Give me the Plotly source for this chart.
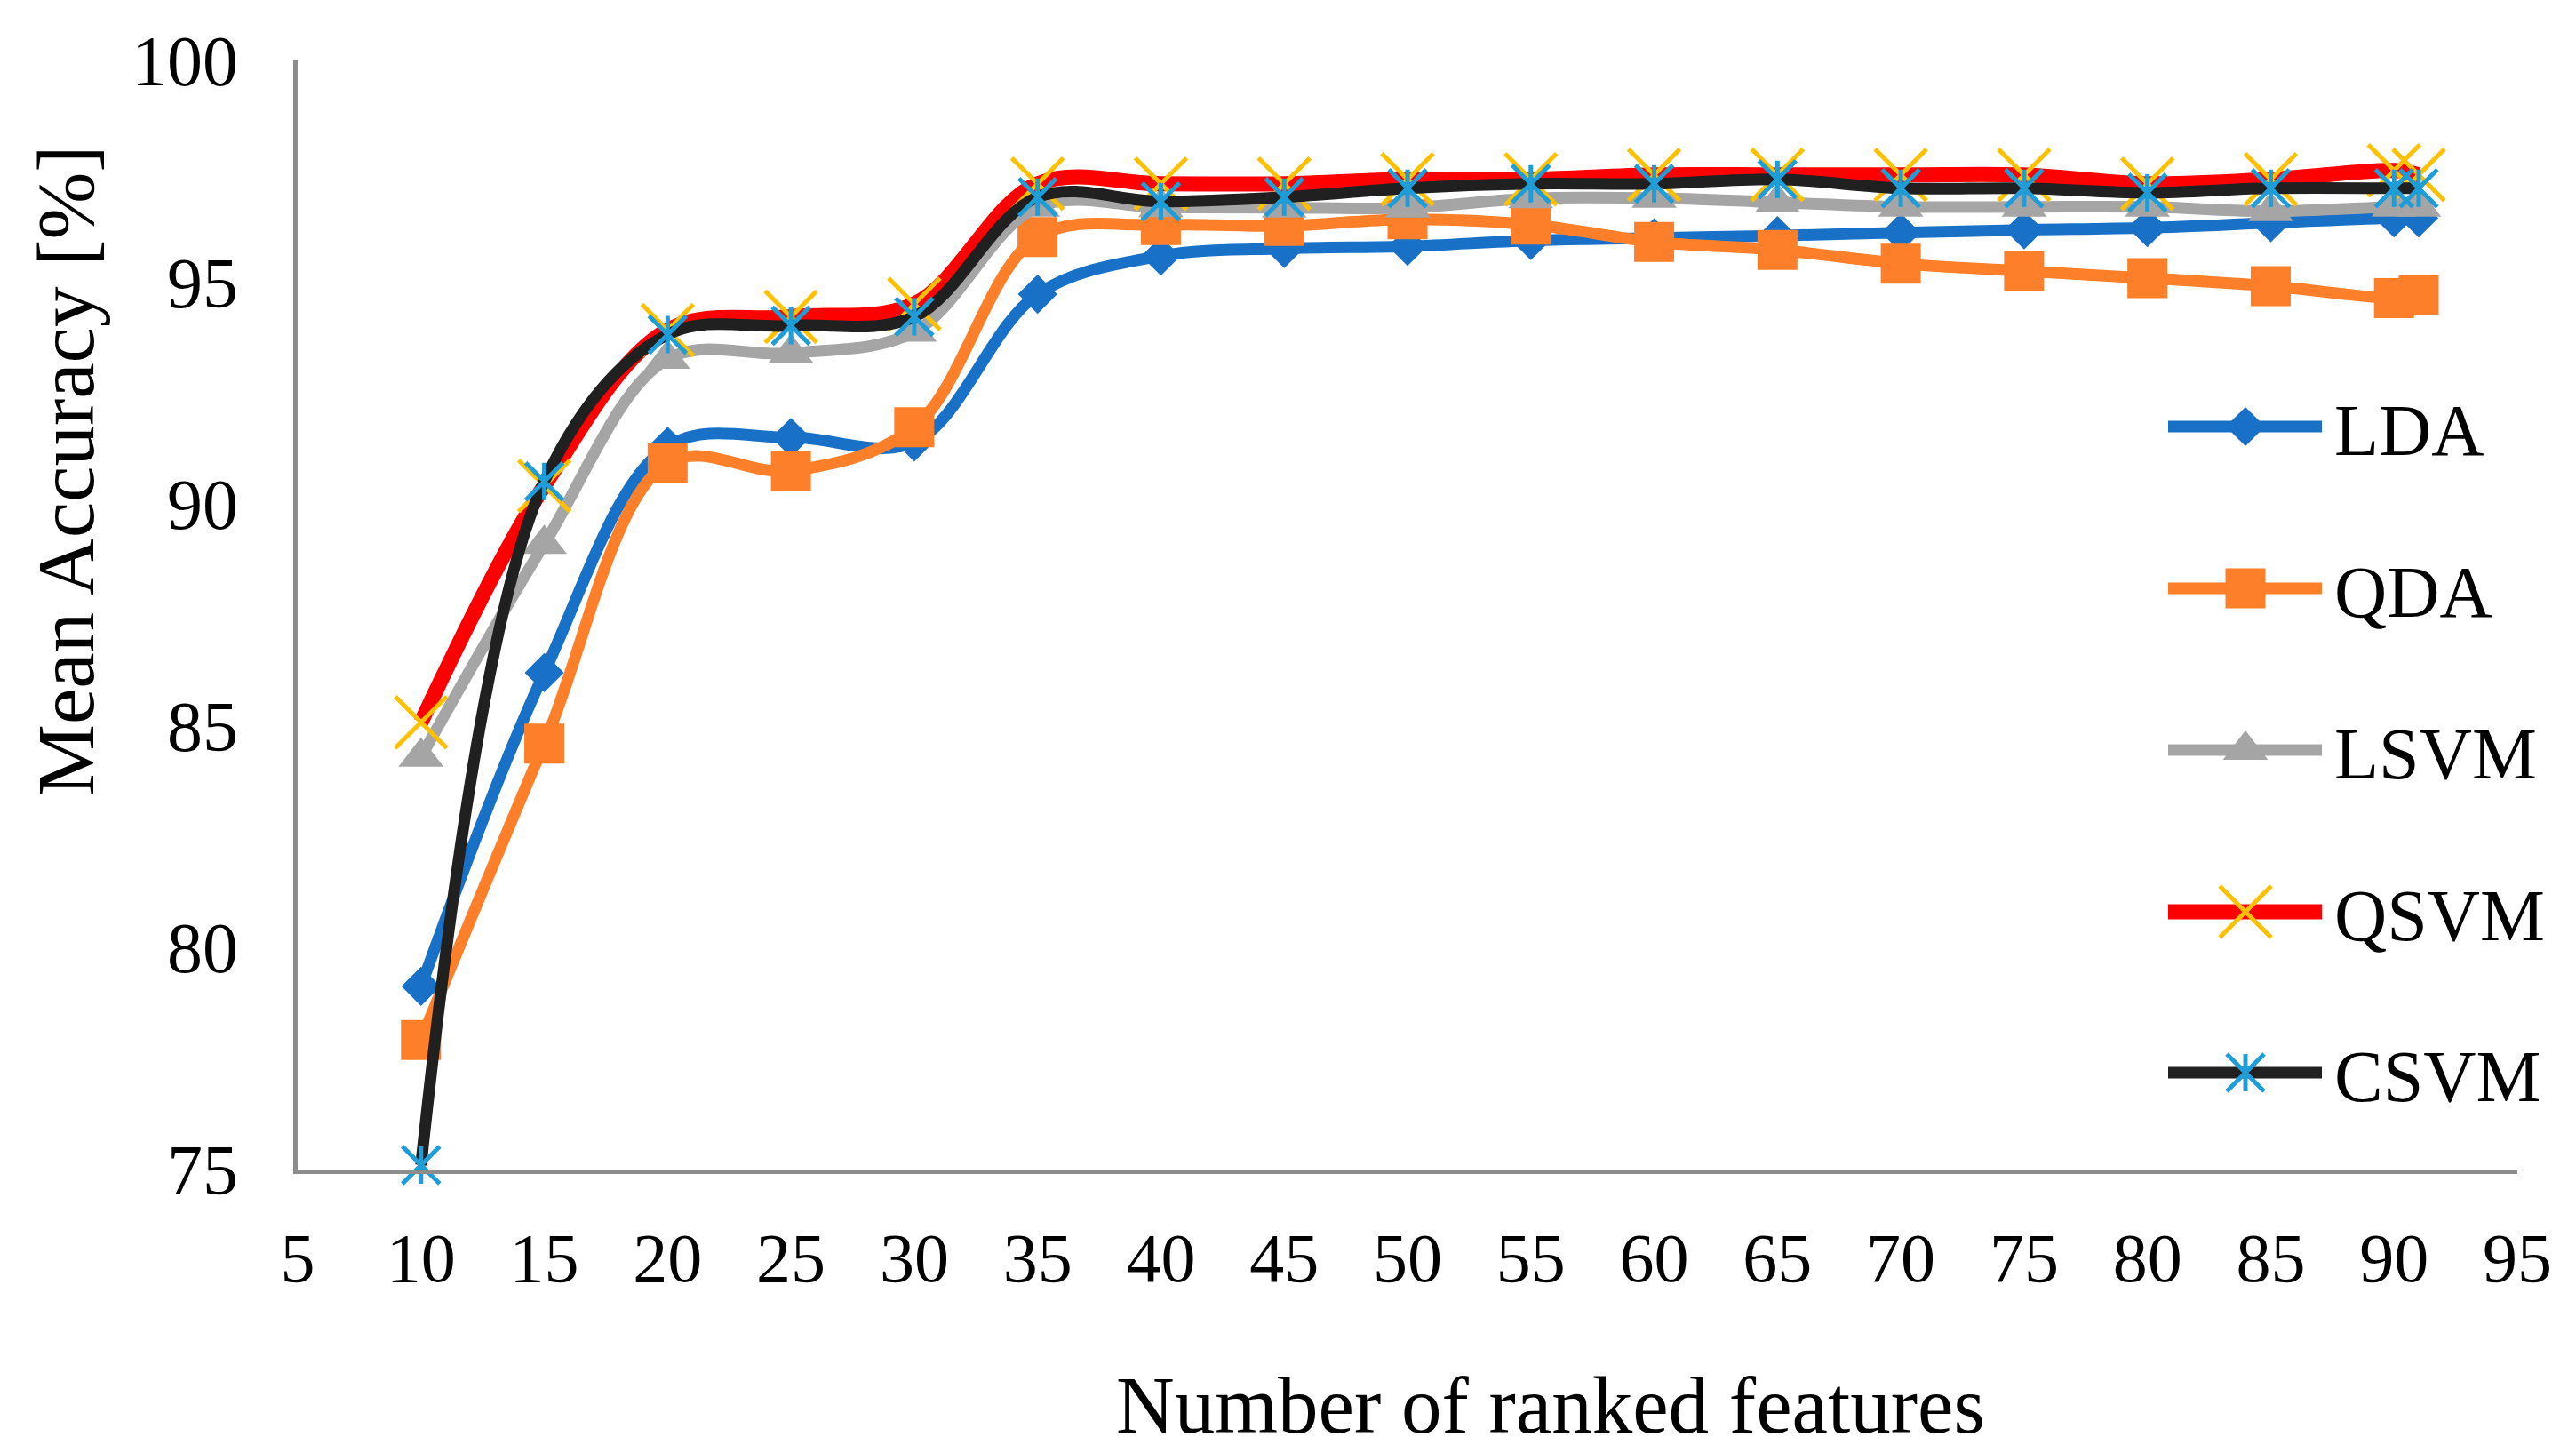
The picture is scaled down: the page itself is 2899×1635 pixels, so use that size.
import plotly.graph_objects as go

# ---------------- data ----------------
features = [10, 15, 20, 25, 30, 35, 40, 45, 50, 55, 60, 65, 70, 75, 80, 85, 90, 91]
lda = [79.13, 86.2, 91.3, 91.5, 91.4, 94.73, 95.59, 95.76, 95.81, 95.94, 96.0, 96.05, 96.12, 96.18, 96.23, 96.34, 96.45, 96.45]
qda = [77.92, 84.6, 90.93, 90.75, 91.73, 96.02, 96.29, 96.27, 96.42, 96.3, 95.91, 95.73, 95.42, 95.25, 95.09, 94.91, 94.64, 94.70]
lsvm = [84.3, 89.1, 93.27, 93.4, 93.88, 96.7, 96.69, 96.68, 96.68, 96.89, 96.9, 96.8, 96.7, 96.7, 96.7, 96.6, 96.7, 96.7]
qsvm = [85.08, 90.41, 93.92, 94.22, 94.51, 97.22, 97.22, 97.22, 97.32, 97.32, 97.42, 97.42, 97.42, 97.42, 97.22, 97.32, 97.52, 97.42]
csvm = [75.1, 90.51, 93.82, 94.02, 94.22, 96.92, 96.82, 96.92, 97.12, 97.22, 97.22, 97.32, 97.12, 97.12, 97.02, 97.12, 97.12, 97.12]

series_names = ["LDA", "QDA", "LSVM", "QSVM", "CSVM"]
x_ticks = [5, 10, 15, 20, 25, 30, 35, 40, 45, 50, 55, 60, 65, 70, 75, 80, 85, 90, 95]
y_ticks = [75, 80, 85, 90, 95, 100]

# ---------------- styles ----------------
FONT = "Liberation Serif, Times New Roman, serif"
W, H = 2899, 1635
L, R, T, B = 335, 2833, 68, 1316  # plot area in px

styles = {
    "LDA":  dict(lc="#1871C7", lw=13, sym="diamond", ms=34, mc="#1871C7", mlw=0),
    "QDA":  dict(lc="#FE7F29", lw=13, sym="square", ms=45, mc="#FE7F29", mlw=0),
    "LSVM": dict(lc="#A5A5A5", lw=13, sym="triangle-up", ms=44, mc="#A5A5A5", mlw=0),
    "QSVM": dict(lc="#FF0000", lw=17, sym="x-thin", ms=58, mc="#FFC000", mlw=5),
    "CSVM": dict(lc="#202020", lw=13, sym="x-thin", ms=42, mc="#1E9DD8", mlw=5),
}
values = {"LDA": lda, "QDA": qda, "LSVM": lsvm, "QSVM": qsvm, "CSVM": csvm}

fig = go.Figure()

for name in series_names:
    s = styles[name]
    fig.add_trace(go.Scatter(
        x=features, y=values[name], name=name, mode="lines+markers",
        line=dict(color=s["lc"], width=s["lw"], shape="spline", smoothing=1),
        marker=dict(symbol=s["sym"], size=s["ms"], color=s["mc"],
                    line=dict(color=s["mc"], width=s["mlw"])),
        cliponaxis=False, showlegend=False,
    ))
    if name == "CSVM":
        fig.add_trace(go.Scatter(
            x=features, y=values[name], mode="markers",
            marker=dict(symbol="line-ns", size=30, color=s["mc"],
                        line=dict(color=s["mc"], width=5)),
            cliponaxis=False, showlegend=False, hoverinfo="skip",
        ))

# ---------------- custom legend (drawn on an overlay axis in paper units) ----------------
def px_x(p):
    return (p - L) / (R - L)

def px_y(p):
    return (B - p) / (B - T)

legend_rows = [480, 662, 844, 1026, 1207]
lx0, lx1, lxm, ltx = 2440, 2613, 2527, 2625
for name, ry in zip(series_names, legend_rows):
    s = styles[name]
    fig.add_trace(go.Scatter(
        x=[px_x(lx0), px_x(lx1)], y=[px_y(ry), px_y(ry)], mode="lines",
        line=dict(color=s["lc"], width=s["lw"]), xaxis="x2", yaxis="y2",
        showlegend=False, hoverinfo="skip", cliponaxis=False,
    ))
    fig.add_trace(go.Scatter(
        x=[px_x(lxm)], y=[px_y(ry)], mode="markers",
        marker=dict(symbol=s["sym"], size=s["ms"], color=s["mc"],
                    line=dict(color=s["mc"], width=s["mlw"])),
        xaxis="x2", yaxis="y2", showlegend=False, hoverinfo="skip", cliponaxis=False,
    ))
    if name == "CSVM":
        fig.add_trace(go.Scatter(
            x=[px_x(lxm)], y=[px_y(ry)], mode="markers",
            marker=dict(symbol="line-ns", size=30, color=s["mc"],
                        line=dict(color=s["mc"], width=5)),
            xaxis="x2", yaxis="y2", showlegend=False, hoverinfo="skip", cliponaxis=False,
        ))
    fig.add_annotation(x=px_x(ltx), y=px_y(ry + 4), xref="paper", yref="paper",
                       text=name, showarrow=False, xanchor="left", yanchor="middle",
                       font=dict(family=FONT, size=82, color="black"))

# ---------------- axis titles ----------------
fig.add_annotation(x=px_x(1745), y=px_y(1581), xref="paper", yref="paper",
                   text="Number of ranked features", showarrow=False,
                   xanchor="center", yanchor="middle",
                   font=dict(family=FONT, size=91, color="black"))
fig.add_annotation(x=px_x(74), y=px_y(530), xref="paper", yref="paper",
                   text="Mean Accuracy [%]", showarrow=False, textangle=-90,
                   xanchor="center", yanchor="middle",
                   font=dict(family=FONT, size=91, color="black"))

axis_gray = "#8C8C8C"
fig.update_layout(
    width=W, height=H,
    margin=dict(l=L, r=W - R, t=T, b=H - B, autoexpand=False),
    paper_bgcolor="white", plot_bgcolor="white",
    font=dict(family=FONT, color="black"),
    xaxis=dict(range=[5, 95], tickmode="array", tickvals=x_ticks,
               ticktext=[str(v) for v in x_ticks],
               showgrid=False, zeroline=False, showline=True, linecolor=axis_gray,
               linewidth=5, ticks="", tickfont=dict(family=FONT, size=78, color="black"),
               ticklabelstandoff=27, automargin=False),
    yaxis=dict(range=[75, 100], tickmode="array", tickvals=y_ticks,
               ticktext=[str(v) for v in y_ticks],
               showgrid=False, zeroline=False, showline=True, linecolor=axis_gray,
               linewidth=5, ticks="", tickfont=dict(family=FONT, size=80, color="black"),
               ticklabelstandoff=46, automargin=False),
    xaxis2=dict(overlaying="x", range=[0, 1], visible=False, anchor="y2"),
    yaxis2=dict(overlaying="y", range=[0, 1], visible=False, anchor="x2"),
)

fig.write_html("out.html", config={"displayModeBar": False},
               post_script="document.body.style.margin='0px';document.body.style.overflow='hidden';")
